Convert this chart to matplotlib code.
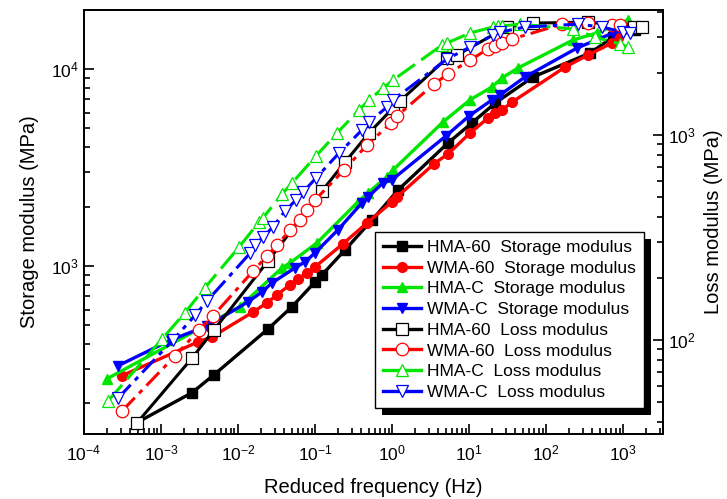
import numpy as np
import matplotlib.pyplot as plt
from matplotlib.lines import Line2D
from matplotlib.patches import Rectangle
from matplotlib.ticker import NullFormatter

plt.rcParams['font.family'] = ['Liberation Sans', 'DejaVu Sans']
plt.rcParams['mathtext.default'] = 'regular'

# storage modulus (MPa), left axis
f_hma60_s = [4.87e-4, 2.53e-3, 4.88e-3, 0.0245, 0.0502, 0.1, 0.123, 0.245, 0.55, 1.2,
             5.33, 10.9, 21.8, 67.8, 373, 741, 1430]
e_hma60_s = [160, 227, 280, 478, 620, 829, 900, 1205, 1710, 2430,
             4210, 5320, 6710, 9110, 12050, 14530, 15790]

f_wma60_s = [3.12e-4, 3.03e-3, 4.59e-3, 0.0157, 0.0238, 0.0321, 0.0473, 0.0601, 0.0787, 0.1,
             0.231, 0.473, 1.0, 1.16, 3.51, 5.33, 10.3, 17.7, 21.8, 26.8, 36.2, 177, 351, 720, 861]
e_wma60_s = [277, 411, 436, 583, 649, 713, 801, 859, 921, 988,
             1295, 1652, 2113, 2240, 3300, 3700, 4730, 5640, 5990, 6190, 6790, 10230, 11780, 13550, 14360]

f_hmac_s = [1.99e-4, 0.0106, 0.0372, 0.0473, 0.106, 0.361, 0.487, 0.861, 1.03,
            4.59, 10.3, 19.9, 26.8, 43.3, 224, 459, 1161]
e_hmac_s = [267, 620, 977, 1035, 1309, 2113, 2351, 2832, 3069,
            5380, 6970, 8110, 9000, 10120, 14030, 15240, 17740]

f_wmac_s = [2.77e-4, 1.35e-3, 3.95e-3, 0.0135, 0.0205, 0.0277, 0.055, 0.0741, 0.1, 0.199,
            0.407, 0.487, 0.764, 1.0, 5.02, 10, 19.9, 25.3, 53.3, 253, 741, 1233]
e_wmac_s = [311, 421, 495, 656, 738, 820, 977, 1047, 1164, 1525,
            2090, 2240, 2640, 2737, 4570, 5770, 6970, 7380, 9110, 12780, 15240, 16140]

# loss modulus (MPa), right axis
f_hma60_l = [4.87e-4, 2.53e-3, 4.88e-3, 0.0245, 0.123, 0.245, 0.502, 1.03, 1.27,
             5.18, 6.98, 31.2, 67.8, 351, 1390, 1766]
e_hma60_l = [39.4, 81.7, 112, 243, 533, 738, 1023, 1355, 1465,
             2376, 2456, 3365, 3516, 3556, 3365, 3365]

f_wma60_l = [3.12e-4, 1.52e-3, 3.12e-3, 4.73e-3, 0.0157, 0.0238, 0.0321, 0.0473, 0.0638, 0.0787,
             0.1, 0.238, 0.473, 0.970, 1.16, 3.51, 5.33, 10.3, 17.7, 21.8, 26.8, 36.2, 161, 351, 720, 914]
e_wma60_l = [45.1, 83.6, 112, 131, 217, 257, 290, 344, 385, 431,
             482, 675, 894, 1144, 1238, 1773, 1986, 2323, 2630, 2716, 2810, 2940, 3475, 3516, 3443, 3443]

f_hmac_l = [2.05e-4, 1.03e-3, 2.05e-3, 3.72e-3, 0.0103, 0.0188, 0.0211, 0.0372, 0.0502, 0.103,
            0.193, 0.372, 0.502, 0.764, 1.03, 4.46, 5.18, 10.3, 20.5, 23.8, 26.8, 45.9, 224, 433, 914, 1161]
e_hmac_l = [50.4, 101, 136, 180, 284, 377, 394, 515, 583, 791,
            1023, 1324, 1482, 1695, 1854, 2748, 2810, 3148, 3365, 3404, 3404, 3475, 3289, 3007, 2780, 2686]

f_wmac_l = [2.77e-4, 1.43e-3, 2.77e-3, 3.95e-3, 0.0143, 0.0166, 0.0211, 0.0285, 0.0407, 0.0566,
            0.0698, 0.103, 0.205, 0.407, 0.502, 0.861, 1.03, 5.18, 10.3, 20.5, 25.3, 53.3, 261, 533, 1000, 1233]
e_wmac_l = [52.1, 100, 132, 155, 265, 290, 318, 356, 426, 482,
            527, 617, 817, 1058, 1157, 1370, 1482, 2350, 2686, 3076, 3177, 3365, 3475, 3365, 3177, 3148]

names = ['HMA-60', 'WMA-60', 'HMA-C', 'WMA-C']
colors = ['black', '#ff0000', '#00e600', '#0000ff']
markers = ['s', 'o', '^', 'v']
loss_ls = ['-', (0, (6, 2, 1.5, 2)), (0, (7, 2.5)), (0, (6, 2, 1.5, 2))]

storage = [(f_hma60_s, e_hma60_s), (f_wma60_s, e_wma60_s), (f_hmac_s, e_hmac_s), (f_wmac_s, e_wmac_s)]
loss = [(f_hma60_l, e_hma60_l), (f_wma60_l, e_wma60_l), (f_hmac_l, e_hmac_l), (f_wmac_l, e_wmac_l)]

fig = plt.figure(figsize=(7.27, 4.99), dpi=100)
ax = fig.add_axes([84 / 727, 1 - 434 / 499, (663 - 84) / 727, (434 - 10) / 499])
ax2 = ax.twinx()

for (f, e), c, m in zip(storage, colors, markers):
    ax.plot(f, e, color=c, lw=2.4, marker=m, ms=7, mfc=c, mec=c)
for (f, e), c, m, ls in zip(loss, colors, markers, loss_ls):
    ax2.plot(f, e, color=c, lw=2.2, ls=ls, marker=m, ms=9, mfc='white', mec=c, mew=0.9)

ax.set_xscale('log')
ax.set_yscale('log')
ax2.set_yscale('log')
ax.set_xlim(1e-4, 3300)
ax.set_ylim(140, 19930)
ax2.set_ylim(34.8, 4074)

for a in (ax, ax2):
    a.yaxis.set_minor_formatter(NullFormatter())
    for s in a.spines.values():
        s.set_linewidth(1.3)
ax.tick_params(which='both', direction='in', labelsize=12.5, width=1.2, top=False, right=False)
ax.tick_params(which='major', length=7)
ax.tick_params(which='minor', length=4)
ax.tick_params(axis='x', pad=7)
ax2.tick_params(which='both', direction='in', labelsize=12.5, width=1.2)
ax2.tick_params(which='major', length=7)
ax2.tick_params(which='minor', length=4)

ax.set_xlabel('Reduced frequency (Hz)', fontsize=14.5, labelpad=10)
ax.set_ylabel('Storage modulus (MPa)', fontsize=14.5, labelpad=9)
ax2.set_ylabel('Loss modulus (MPa)', fontsize=14.5, rotation=90, labelpad=6)

handles = []
for c, m in zip(colors, markers):
    handles.append(Line2D([], [], color=c, lw=2.4, marker=m, ms=7, mfc=c, mec=c))
for c, m in zip(colors, markers):
    handles.append(Line2D([], [], color=c, lw=2.4, marker=m, ms=9, mfc='white', mec=c, mew=0.9))
labels = [n + '  Storage modulus' for n in names] + [n + '  Loss modulus' for n in names]

leg = ax2.legend(handles, labels, loc='upper left', bbox_to_anchor=((375 - 84) / 579, (434 - 232) / 424),
                 borderaxespad=0, fontsize=12.5, handlelength=2.2, handletextpad=0.35,
                 labelspacing=0.32, borderpad=0.45, fancybox=False, framealpha=1, edgecolor='black')
leg.get_frame().set_linewidth(1.0)

# black drop shadow behind the legend
fig.canvas.draw()
bb = leg.get_window_extent().transformed(ax2.transAxes.inverted())
shadow = Rectangle((bb.x0 + 7 / 579, bb.y0 - 7 / 424), bb.width, bb.height, transform=ax2.transAxes,
                   facecolor='black', edgecolor='none', clip_on=False, zorder=4.9)
ax2.add_patch(shadow)

fig.savefig('out.png', dpi=100)
